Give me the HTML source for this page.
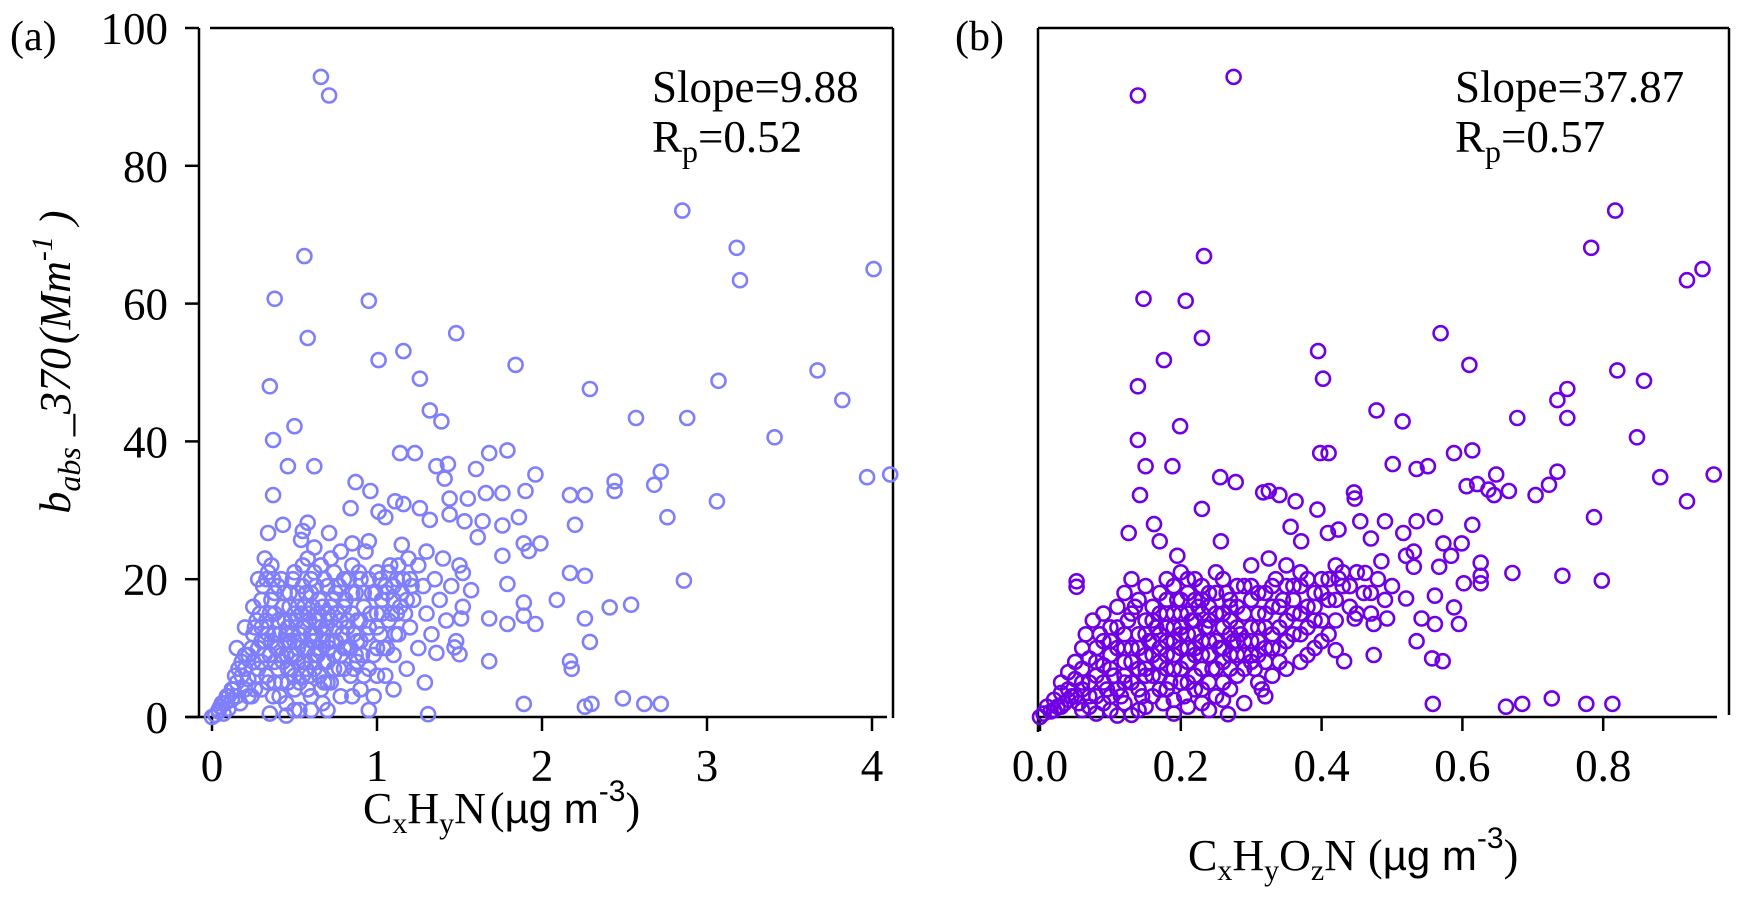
<!DOCTYPE html>
<html><head><meta charset="utf-8"><style>
html,body{margin:0;padding:0;background:#fff;}
svg{display:block;}
text{font-family:"Liberation Serif",serif;fill:#000;}
.sans{font-family:"Liberation Sans",sans-serif;}
</style></head><body>
<svg id="chart" width="1744" height="898" viewBox="0 0 1744 898" xmlns="http://www.w3.org/2000/svg">
<g id="axes"></g>
<g id="ptsA"></g>
<g id="ptsB"></g>
<text x="10" y="50" font-size="42">(a)</text>
<text x="955" y="50" font-size="42">(b)</text>
<text x="652" y="102" font-size="45">Slope=9.88</text>
<text x="652" y="152" font-size="45">R<tspan font-size="32" dy="10">p</tspan><tspan dy="-10">=0.52</tspan></text>
<text x="1455" y="102" font-size="45">Slope=37.87</text>
<text x="1455" y="152" font-size="45">R<tspan font-size="32" dy="10">p</tspan><tspan dy="-10">=0.57</tspan></text>
<text transform="translate(70,362) rotate(-90)" text-anchor="middle" font-size="44" font-style="italic">b<tspan font-size="32" dy="10">abs</tspan><tspan dy="-10"> _370</tspan><tspan dx="4">(Mm</tspan><tspan font-size="30" dy="-18">-1</tspan><tspan dy="18"> )</tspan></text>
<text x="363" y="823" font-size="44">C<tspan font-size="30" dy="10">x</tspan><tspan dy="-10">H</tspan><tspan font-size="30" dy="10">y</tspan><tspan dy="-10">N</tspan><tspan dx="4">(</tspan><tspan class="sans" font-size="42">µg m</tspan><tspan class="sans" font-size="30" dy="-22">-3</tspan><tspan dy="22">)</tspan></text>
<text x="1188" y="870" font-size="44">C<tspan font-size="30" dy="10">x</tspan><tspan dy="-10">H</tspan><tspan font-size="30" dy="10">y</tspan><tspan dy="-10">O</tspan><tspan font-size="30" dy="10">z</tspan><tspan dy="-10">N</tspan><tspan dx="12">(</tspan><tspan class="sans" font-size="42">µg m</tspan><tspan class="sans" font-size="30" dy="-22">-3</tspan><tspan dy="22">)</tspan></text>
</svg>
<script>
var yTicks=[0,20,40,60,80,100];
var yTickLabels=["0","20","40","60","80","100"];
var xTicksA=[0,1,2,3,4];
var xTickLabelsA=["0","1","2","3","4"];
var xTicksB=[0,0.2,0.4,0.6,0.8];
var xTickLabelsB=["0.0","0.2","0.4","0.6","0.8"];
var outliersA=[[0.66,92.9],[0.71,90.2],[2.85,73.5],[3.18,68.1],[3.20,63.4],[4.01,65.0],[0.56,66.9],[0.38,60.7],[0.95,60.4],[0.58,55.0],[1.48,55.7],[1.16,53.1],[1.01,51.8],[1.84,51.1],[1.26,49.1],[0.35,48.0],[2.29,47.6],[3.07,48.8],[3.67,50.3],[3.82,46.0],[1.32,44.5],[1.39,42.9],[0.50,42.2],[2.57,43.4],[2.88,43.4],[3.41,40.6],[0.37,40.2],[1.14,38.3],[1.23,38.3],[1.68,38.3],[1.79,38.7],[0.46,36.4],[0.62,36.4],[1.36,36.4],[1.43,36.7],[1.60,36.0],[1.41,34.6],[1.96,35.2],[2.44,34.2],[2.44,32.8],[2.72,35.6],[2.68,33.7],[3.97,34.8],[4.11,35.2],[0.37,32.2],[0.87,34.1],[0.96,32.8],[1.90,32.8],[2.17,32.2],[2.26,32.2],[3.06,31.3],[2.76,29.0],[2.86,19.8],[2.17,20.9],[2.26,20.5],[2.09,17.0],[2.41,15.9],[2.54,16.3],[2.26,14.3],[2.29,10.9],[2.17,8.1],[2.18,7.0],[1.68,8.1],[1.89,1.9],[2.26,1.5],[2.30,1.9],[2.49,2.7],[2.62,1.9],[2.72,1.9],[1.31,0.4],[2.20,27.9],[1.86,29.0],[1.99,25.2],[1.89,25.2],[1.92,24.1],[1.96,13.5],[1.89,16.6],[1.89,14.7],[1.79,13.5],[1.68,14.3],[1.76,23.4],[1.79,19.3],[1.76,27.8],[1.61,26.1],[1.53,28.4],[1.64,28.4],[1.55,31.7],[1.66,32.5],[1.76,32.5],[1.44,31.7],[1.44,29.4],[1.32,28.6],[1.26,30.3],[1.16,30.9],[1.11,31.3],[1.01,29.8],[0.84,30.3],[1.05,29.0],[0.34,26.7],[0.43,27.9],[0.58,28.2],[0.71,26.7],[0.54,25.7],[0.62,24.6],[0.95,25.5],[0.85,25.2],[1.51,14.3],[1.50,9.1],[1.47,10.1],[1.29,5.0],[1.52,20.9],[1.57,18.4],[1.36,9.3]];
var clusterA=[[0,0],[0.02,0.3],[0.04,0.8],[0.05,1.5],[0.07,0.5],[0.08,2],[0.1,1.2],[0.1,3],[0.12,2.5],[0.13,4],[0.15,3],[0.15,5],[0.17,2],[0.18,6],[0.2,4],[0.2,7],[0.22,5.5],[0.22,9],[0.24,3],[0.25,8],[0.25,12],[0.27,6],[0.27,14],[0.28,10],[0.3,4],[0.3,8],[0.3,13],[0.3,17],[0.32,11],[0.33,6],[0.33,20],[0.35,9],[0.35,15],[0.36,22],[0.37,3],[0.38,12],[0.38,18],[0.4,7],[0.4,10],[0.4,14],[0.42,5],[0.42,20],[0.43,16],[0.45,9],[0.45,12],[0.45,2],[0.47,18],[0.48,7],[0.48,14],[0.5,4],[0.5,11],[0.5,21],[0.52,16],[0.52,8],[0.53,1],[0.55,13],[0.55,19],[0.55,6],[0.57,10],[0.58,23],[0.58,15],[0.6,3],[0.6,8],[0.6,12],[0.6,18],[0.62,21],[0.63,14],[0.65,6],[0.65,10],[0.65,17],[0.67,2],[0.68,12],[0.68,20],[0.7,8],[0.7,15],[0.72,5],[0.72,23],[0.73,11],[0.75,18],[0.75,13],[0.77,7],[0.78,24],[0.78,3],[0.8,10],[0.8,16],[0.8,20],[0.82,13],[0.84,6],[0.85,18],[0.85,22],[0.87,9],[0.88,14],[0.9,4],[0.9,11],[0.9,20],[0.92,16],[0.93,24],[0.95,7],[0.95,13],[0.97,18],[0.98,3],[1.0,10],[1.0,15],[1.0,21],[1.02,12],[1.03,17],[1.05,6],[1.05,19],[1.07,14],[1.08,22],[1.1,9],[1.1,17],[1.12,20],[1.13,12],[1.15,18],[1.15,25],[1.17,15],[1.18,7],[1.2,20],[1.2,13],[1.22,17],[1.25,22],[1.25,10],[1.28,19],[1.3,15],[1.3,24],[1.33,12],[1.35,20],[1.38,17],[1.4,23],[1.42,14],[1.45,19],[1.48,11],[1.5,22],[1.52,16],[0.15,10],[0.2,13],[0.25,16],[0.28,20],[0.32,23],[0.55,27],[0.6,1],[0.35,0.5],[0.42,9],[0.47,11],[0.53,12],[0.57,7],[0.62,9],[0.66,13],[0.7,11],[0.74,9],[0.78,14],[0.82,10],[0.86,12],[0.44,14],[0.5,15],[0.56,16],[0.64,15],[0.72,16],[0.38,8],[0.34,12],[0.46,5],[0.58,4],[0.68,5],[0.88,8],[0.92,6],[1.06,10],[1.12,15],[0.62,11],[0.52,10]];
var coreA=[[0.22,3],[0.26,4],[0.28,7],[0.3,11],[0.32,9],[0.33,14],[0.34,5],[0.36,11],[0.36,17],[0.38,5],[0.38,15],[0.39,10],[0.4,19],[0.41,12],[0.41,3],[0.43,8],[0.44,18],[0.44,11],[0.46,13],[0.46,7],[0.47,16],[0.48,9],[0.49,20],[0.49,12],[0.5,6],[0.51,14],[0.51,9],[0.52,18],[0.53,5],[0.54,11],[0.54,15],[0.55,22],[0.56,8],[0.56,13],[0.57,18],[0.58,10],[0.59,6],[0.59,14],[0.6,20],[0.61,11],[0.61,16],[0.62,7],[0.63,12],[0.63,19],[0.64,9],[0.65,14],[0.66,22],[0.66,4],[0.67,11],[0.67,16],[0.68,8],[0.69,13],[0.7,19],[0.7,5],[0.71,10],[0.72,14],[0.73,17],[0.74,7],[0.74,21],[0.75,11],[0.76,15],[0.77,19],[0.78,9],[0.79,12],[0.8,7],[0.81,17],[0.82,14],[0.83,20],[0.84,10],[0.85,15],[0.86,7],[0.87,18],[0.88,11],[0.89,21],[0.9,14],[0.91,9],[0.92,18],[0.94,12],[0.95,20],[0.96,15],[0.98,9],[0.99,18],[1.0,13],[1.02,20],[1.03,15],[1.04,10],[1.06,18],[1.07,21],[1.09,15],[1.1,19],[1.11,12],[1.13,22],[1.14,16],[1.16,20],[1.18,17],[1.19,23],[1.21,19],[0.24,10],[0.26,13],[0.29,15],[0.31,19],[0.34,21],[0.37,20],[0.2,9],[0.18,8],[0.16,7],[0.14,6],[0.12,4],[0.09,3],[0.06,2],[0.04,1],[0.5,1],[0.45,0.2],[0.7,1],[0.85,3],[1.0,6],[1.1,4],[0.95,1]];
var outliersB=[[0.275,92.9],[0.139,90.2],[0.817,73.5],[0.783,68.1],[0.919,63.4],[0.941,65.0],[0.233,66.9],[0.147,60.7],[0.207,60.4],[0.230,55.0],[0.569,55.7],[0.395,53.1],[0.176,51.8],[0.610,51.1],[0.402,49.1],[0.139,48.0],[0.749,47.6],[0.820,50.3],[0.858,48.8],[0.735,46.0],[0.478,44.5],[0.515,42.9],[0.199,42.2],[0.678,43.4],[0.749,43.4],[0.848,40.6],[0.139,40.2],[0.398,38.3],[0.410,38.3],[0.588,38.3],[0.614,38.7],[0.150,36.4],[0.188,36.4],[0.501,36.7],[0.535,36.0],[0.551,36.4],[0.881,34.8],[0.957,35.2],[0.919,31.3],[0.735,35.6],[0.723,33.7],[0.704,32.2],[0.648,35.2],[0.666,32.8],[0.606,33.5],[0.621,33.8],[0.637,33.0],[0.645,32.2],[0.142,32.2],[0.256,34.8],[0.278,34.1],[0.230,30.2],[0.787,29.0],[0.671,20.9],[0.742,20.5],[0.798,19.8],[0.626,22.4],[0.626,20.5],[0.626,19.4],[0.602,19.4],[0.614,27.9],[0.599,25.2],[0.561,29.0],[0.573,25.2],[0.584,23.4],[0.567,21.8],[0.535,28.4],[0.516,26.7],[0.531,24.0],[0.520,23.4],[0.531,21.8],[0.557,8.5],[0.572,8.1],[0.558,1.9],[0.662,1.5],[0.685,1.9],[0.727,2.7],[0.776,1.9],[0.813,1.9],[0.267,0.4],[0.474,9.0],[0.432,8.1],[0.420,9.7],[0.535,11.0],[0.520,17.2],[0.561,17.6],[0.588,15.9],[0.595,13.5],[0.561,13.5],[0.542,14.3],[0.493,14.3],[0.474,13.5],[0.447,14.3],[0.446,32.6],[0.447,31.7],[0.490,28.4],[0.455,28.4],[0.052,19.7],[0.052,18.9],[0.126,26.7],[0.162,28.0],[0.170,25.5],[0.195,23.4],[0.257,25.5],[0.325,32.8],[0.317,32.6],[0.340,32.2],[0.363,31.3],[0.356,27.6],[0.371,25.5],[0.409,26.7],[0.424,27.2],[0.394,30.1],[0.470,25.9],[0.485,22.6],[0.462,20.9],[0.424,20.1]];
var clusterB=[[0,0],[0.005,0.5],[0.01,1.5],[0.015,0.8],[0.02,2.5],[0.025,1.5],[0.03,3.5],[0.03,5],[0.035,2],[0.04,4],[0.04,6.5],[0.045,3],[0.05,5.5],[0.05,8],[0.055,2],[0.06,4],[0.06,7],[0.06,10],[0.065,12],[0.07,5],[0.07,8.5],[0.075,14],[0.08,3],[0.08,6],[0.08,10],[0.085,12],[0.09,7.5],[0.09,15],[0.095,4],[0.1,9],[0.1,11],[0.1,13],[0.1,1],[0.105,6],[0.11,16],[0.11,10],[0.115,3],[0.12,8],[0.12,12],[0.12,18],[0.125,14],[0.13,5],[0.13,10],[0.13,20],[0.135,16],[0.14,7],[0.14,12],[0.14,1],[0.145,3],[0.15,9],[0.15,14],[0.15,19],[0.155,11],[0.16,6],[0.16,16],[0.165,13],[0.17,8],[0.17,18],[0.175,2],[0.18,11],[0.18,15],[0.18,20],[0.185,5],[0.19,13],[0.19,9],[0.195,17],[0.2,7],[0.2,12],[0.2,15],[0.2,21],[0.205,3],[0.21,10],[0.21,18],[0.215,14],[0.22,6],[0.22,12],[0.22,20],[0.225,16],[0.23,9],[0.23,4],[0.235,13],[0.24,18],[0.24,11],[0.245,7],[0.25,15],[0.25,21],[0.255,10],[0.26,13],[0.26,5],[0.265,18],[0.27,9],[0.27,14],[0.275,11],[0.28,16],[0.28,6],[0.285,12],[0.29,19],[0.29,9],[0.3,13],[0.3,17],[0.3,22],[0.305,7],[0.31,11],[0.31,15],[0.315,4],[0.32,18],[0.32,13],[0.325,23],[0.33,10],[0.33,16],[0.335,20],[0.34,13],[0.34,8],[0.345,17],[0.35,22],[0.35,11],[0.36,15],[0.36,19],[0.37,12],[0.37,21],[0.38,16],[0.38,9],[0.39,18],[0.39,14],[0.4,20],[0.4,11],[0.41,17],[0.42,22],[0.42,14],[0.43,19],[0.44,16],[0.45,21],[0.46,18],[0.47,15],[0.48,20],[0.49,17],[0.5,19],[0.08,0.5],[0.11,0.2],[0.13,0.3],[0.19,0.5],[0.21,1.5],[0.24,1],[0.26,2.5],[0.29,2],[0.31,5],[0.32,3],[0.12,5],[0.16,9],[0.18,7],[0.22,9],[0.24,14],[0.26,8],[0.28,11],[0.3,9],[0.32,8],[0.27,17],[0.23,17],[0.19,11],[0.15,7],[0.17,12],[0.21,5]];
var coreB=[[0.06,5],[0.07,3],[0.08,8],[0.09,5],[0.09,11],[0.1,7],[0.11,4],[0.11,13],[0.12,10],[0.12,6],[0.13,8],[0.13,15],[0.14,4],[0.14,10],[0.14,17],[0.15,6],[0.15,12],[0.16,3],[0.16,11],[0.16,14],[0.17,6],[0.17,10],[0.17,15],[0.18,4],[0.18,9],[0.18,13],[0.18,17],[0.19,7],[0.19,15],[0.19,19],[0.2,5],[0.2,10],[0.2,13],[0.2,17],[0.21,8],[0.21,12],[0.21,15],[0.21,20],[0.22,4],[0.22,10],[0.22,14],[0.22,17],[0.23,7],[0.23,11],[0.23,15],[0.23,19],[0.24,5],[0.24,9],[0.24,13],[0.24,16],[0.25,7],[0.25,11],[0.25,18],[0.26,10],[0.26,15],[0.26,20],[0.27,7],[0.27,12],[0.27,16],[0.28,9],[0.28,13],[0.28,19],[0.29,7],[0.29,11],[0.29,15],[0.3,8],[0.3,11],[0.3,19],[0.31,9],[0.31,13],[0.31,18],[0.32,10],[0.32,15],[0.33,12],[0.33,19],[0.34,10],[0.34,16],[0.35,14],[0.35,19],[0.36,12],[0.36,17],[0.37,15],[0.37,19],[0.38,13],[0.38,20],[0.39,16],[0.4,14],[0.4,18],[0.41,20],[0.42,17],[0.43,21],[0.44,19],[0.02,1],[0.03,1.5],[0.04,2.5],[0.05,3],[0.06,1],[0.07,1.5],[0.09,2],[0.1,3],[0.12,2],[0.15,1.5],[0.17,4],[0.19,2.5],[0.23,2],[0.27,4],[0.25,3],[0.33,6],[0.35,7],[0.37,8],[0.39,10],[0.41,12],[0.45,15],[0.47,18]];

var NS="http://www.w3.org/2000/svg";
var Y0=717, Y1=28;
function yS(v){return Y0-(v/100)*(Y0-Y1);}
function xA(v){return 212+v*165;}
function xB(v){return 1040+v*704;}
var axes=document.getElementById('axes');
function line(x1,y1,x2,y2,name){
  var l=document.createElementNS(NS,'line');
  l.setAttribute('x1',x1);l.setAttribute('y1',y1);l.setAttribute('x2',x2);l.setAttribute('y2',y2);
  l.setAttribute('stroke','#000');l.setAttribute('stroke-width','2.5');
  
  
  axes.appendChild(l);
}
function txt(x,y,s,anchor,name){
  var t=document.createElementNS(NS,'text');
  t.setAttribute('x',x);t.setAttribute('y',y);t.setAttribute('font-size','45');t.setAttribute('text-anchor',anchor);
  t.textContent=s;
  
  
  axes.appendChild(t);
}
line(199,28,199,717,'panel-a-y-axis');
line(210,28,893,28,'panel-a-top-border');
line(186,717,887,717,'panel-a-x-axis');
line(893,28,893,718,'panel-a-right-border');
yTicks.forEach(function(v,i){
  line(185,yS(v),199,yS(v),'panel-a-y-tick');
  txt(168,yS(v)+16,yTickLabels[i],'end','y-tick-label');
});
xTicksA.forEach(function(v,i){
  line(xA(v),717,xA(v),731,'panel-a-x-tick');
  txt(xA(v),781,xTickLabelsA[i],'middle','x-tick-label-a');
});
line(1038,28,1038,732,'panel-b-y-axis');
line(1038,28,1729,28,'panel-b-top-border');
line(1038,717,1717,717,'panel-b-x-axis');
line(1729,28,1729,715,'panel-b-right-border');
xTicksB.forEach(function(v,i){
  line(xB(v),717,xB(v),731,'panel-b-x-tick');
  txt(xB(v),781,xTickLabelsB[i],'middle','x-tick-label-b');
});
function plot(gid,arr,xf,color,name){
  var g=document.getElementById(gid);
  arr.forEach(function(p){
    var c=document.createElementNS(NS,'circle');
    c.setAttribute('cx',xf(p[0]).toFixed(1));c.setAttribute('cy',yS(p[1]).toFixed(1));
    c.setAttribute('r','7');c.setAttribute('fill','none');c.setAttribute('stroke',color);c.setAttribute('stroke-width','2.6');
    
    
    g.appendChild(c);
  });
}
plot('ptsA',clusterA,xA,'#7f7ffc','point-a');
plot('ptsA',coreA,xA,'#7f7ffc','point-a');
plot('ptsA',outliersA,xA,'#7f7ffc','point-a');
plot('ptsB',clusterB,xB,'#7000e4','point-b');
plot('ptsB',coreB,xB,'#7000e4','point-b');
plot('ptsB',outliersB,xB,'#7000e4','point-b');
</script>
</body></html>
